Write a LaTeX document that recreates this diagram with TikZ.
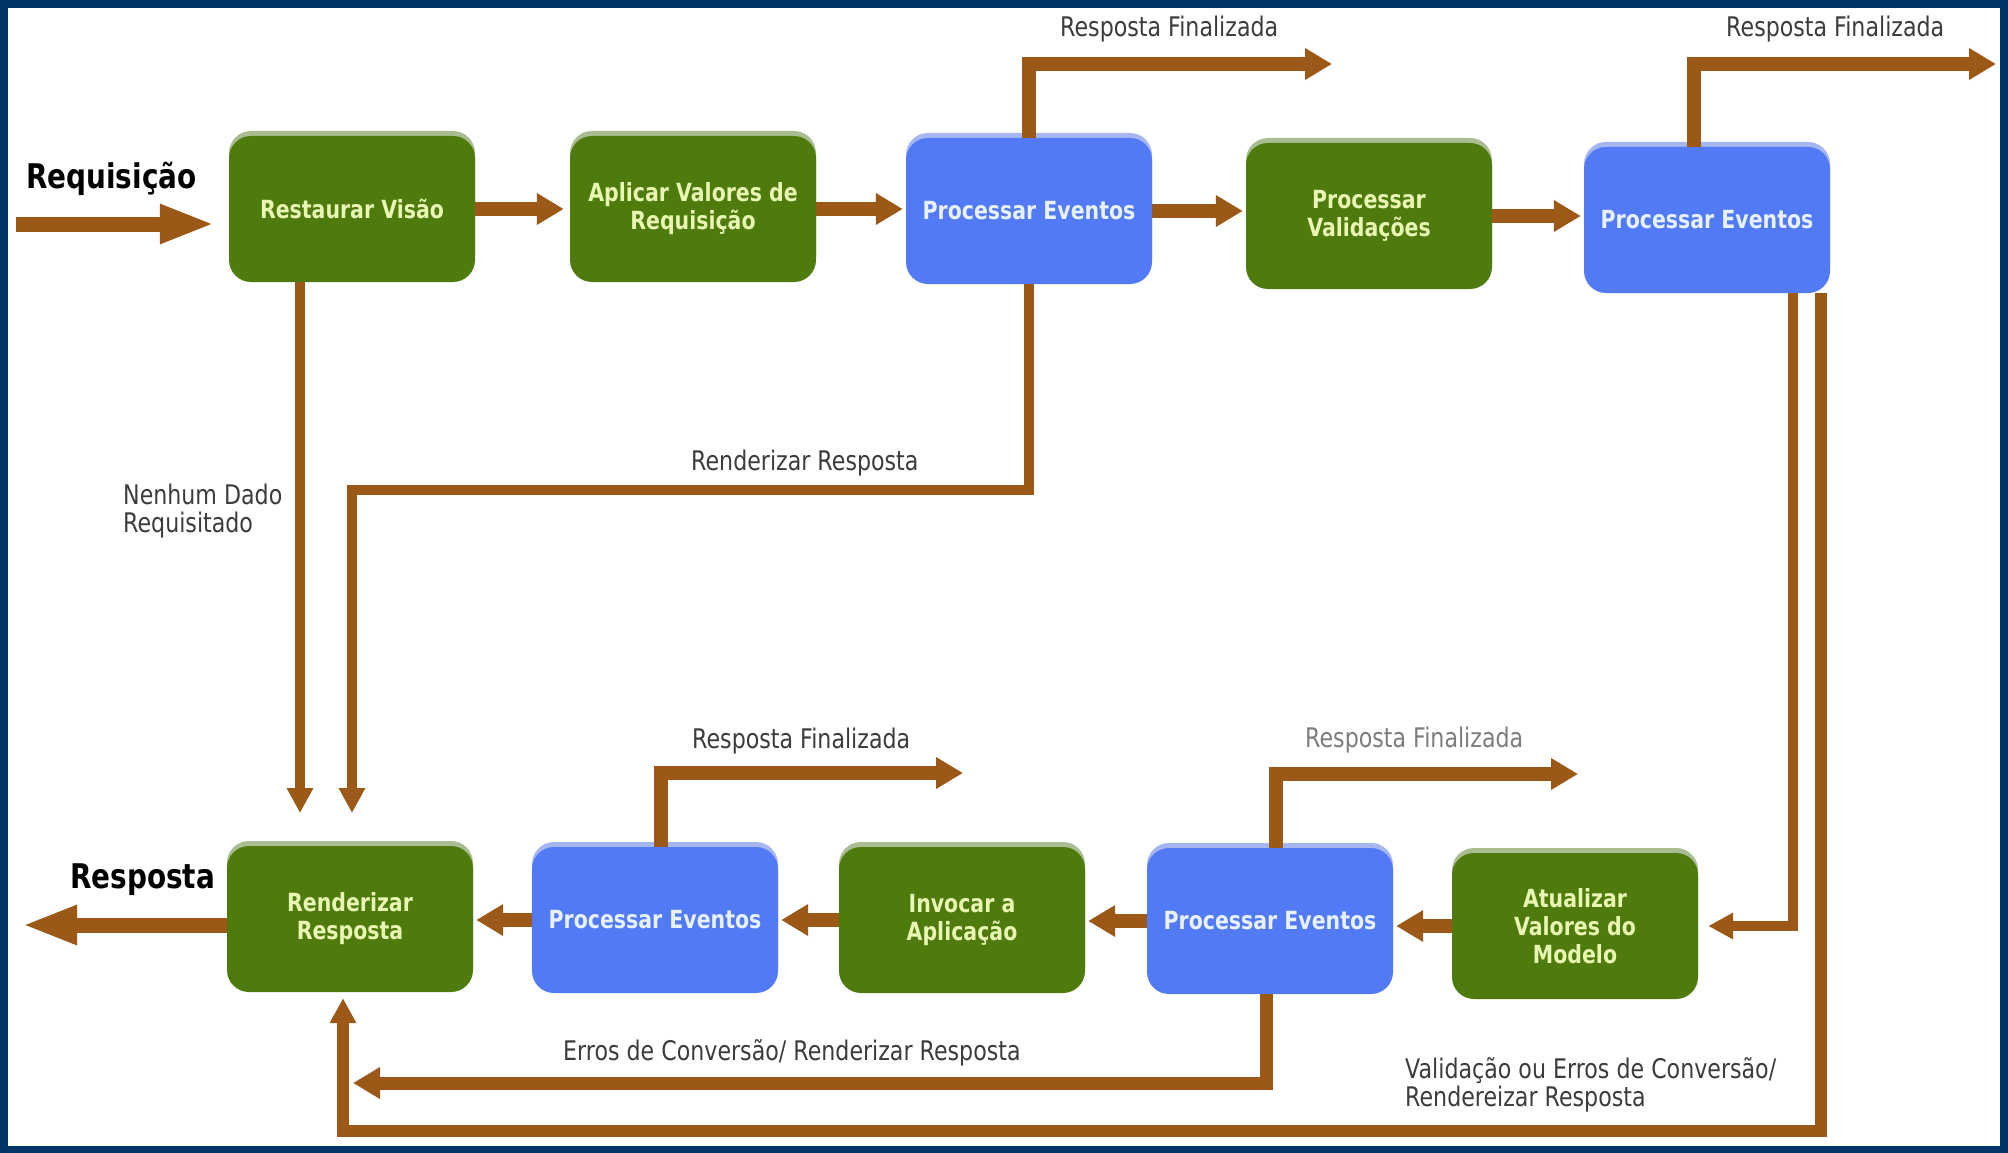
\documentclass[tikz,border=0pt]{standalone}
\usepackage{fontspec}
\setmainfont{DejaVu Sans}[FakeStretch=0.82]
\usetikzlibrary{arrows.meta,shadows,calc}
\definecolor{navy}{RGB}{0,51,102}
\definecolor{boxgreen}{RGB}{78,122,14}
\definecolor{boxgreenedge}{RGB}{170,188,145}
\definecolor{boxblue}{RGB}{82,122,245}
\definecolor{boxblueedge}{RGB}{165,182,240}
\definecolor{arrbrown}{RGB}{155,88,22}
\definecolor{greentext}{RGB}{232,248,178}
\definecolor{bluetext}{RGB}{232,242,255}
\definecolor{labelgray}{RGB}{60,60,60}
\definecolor{lightgray}{RGB}{125,125,125}
\tikzset{
  phase/.style={rounded corners=22pt, minimum width=246pt, minimum height=146pt,
    inner sep=0pt, align=center, font=\fontsize{25}{28}\selectfont\bfseries},
  gbox/.style={phase, fill=boxgreen, text=greentext,
    drop shadow={fill=boxgreenedge, shadow xshift=0pt, shadow yshift=5pt, opacity=1}},
  bbox/.style={phase, fill=boxblue, text=bluetext,
    drop shadow={fill=boxblueedge, shadow xshift=0pt, shadow yshift=5pt, opacity=1}},
  flow/.style={draw=arrbrown, line width=14pt, -{Triangle[length=27pt,width=30pt]}},
  thinflow/.style={draw=arrbrown, line width=10pt, -{Triangle[length=25pt,width=25pt]}},
  bigflow/.style={draw=arrbrown, line width=15pt, -{Triangle[length=55pt,width=36pt]}},
  lbl/.style={inner sep=0pt, text=labelgray, font=\fontsize{27}{28}\selectfont},
  biglbl/.style={inner sep=0pt, text=black, font=\fontsize{34}{36}\selectfont\bfseries},
}
\begin{document}
\begin{tikzpicture}[x=1pt,y=-1pt]
\fill[navy] (0,0) rectangle (2008,1153);
\fill[white] (8,8) rectangle (2000,1146);
\useasboundingbox (0,0) rectangle (2008,1153);

% boxes
\node[gbox] (rv)  at (352,209)  {Restaurar Visão};
\node[gbox] (avr) at (693,209)  {Aplicar Valores de\\Requisição};
\node[bbox] (pe1) at (1029,211) {Processar Eventos};
\node[gbox] (pv)  at (1369,216) {Processar\\Validações};
\node[bbox] (pe2) at (1707,220) {Processar Eventos};
\node[gbox] (rr)  at (350,919)  {Renderizar\\Resposta};
\node[bbox] (pe3) at (655,920)  {Processar Eventos};
\node[gbox] (ia)  at (962,920)  {Invocar a\\Aplicação};
\node[bbox] (pe4) at (1270,921) {Processar Eventos};
\node[gbox] (avm) at (1575,926) {Atualizar\\Valores do\\Modelo};

% coordinates for free ends and bends
\coordinate (reqstart) at (16,224);
\coordinate (out) at (22,925);
\coordinate (fin1) at (1332,64);
\coordinate (fin2) at (1996,64);
\coordinate (fin3) at (963,773);
\coordinate (fin4) at (1578,774);
\coordinate (nd) at (300,813);
\coordinate (rturn) at (1029,490);
\coordinate (rr1) at (352,813);
\coordinate (v1) at (1793,923);
\coordinate (v2) at (1821,1131);
\coordinate (e1) at (1266,1083);
\coordinate (e2) at (353,1083);

% top row flow
\draw[bigflow, shorten >=14pt] (reqstart) -- (reqstart -| rv.west);
\draw[flow, shorten >=6pt] (rv.east) -- (rv.east -| avr.west);
\draw[flow, shorten >=3pt] (avr.east) -- (avr.east -| pe1.west);
\draw[flow, shorten >=3pt] (pe1.east) -- (pe1.east -| pv.west);
\draw[flow, shorten >=3pt] (pv.east) -- (pv.east -| pe2.west);

% bottom row flow
\draw[flow, shorten >=3pt] (avm.west) -- (avm.west -| pe4.east);
\draw[flow, shorten >=3pt] (pe4.west) -- (pe4.west -| ia.east);
\draw[flow, shorten >=3pt] (ia.west) -- (ia.west -| pe3.east);
\draw[flow, shorten >=3pt] (pe3.west) -- (pe3.west -| rr.east);
\draw[bigflow] (rr.west |- out) -- (out);

% resposta finalizada
\draw[flow] (pe1.north) |- (fin1);
\draw[flow] ([xshift=-13pt]pe2.north) |- (fin2);
\draw[flow] ([xshift=6pt]pe3.north) |- (fin3);
\draw[flow] ([xshift=6pt]pe4.north) |- (fin4);

% other routes
\draw[thinflow] (rv.south -| nd) -- (nd);
\draw[thinflow] (pe1.south) -- (rturn) -| (rr1);
\draw[thinflow, shorten >=10pt] (pe2.south -| v1) |- (avm.east);
\draw[thinflow, line width=12pt, shorten >=6pt] (pe2.south -| v2) -- (v2) -| ([xshift=-7pt]rr.south);
\draw[flow, line width=13pt] (pe4.south -| e1) |- (e2);

% labels
\node[biglbl, anchor=base west] (lreq) at (26,188) {Requisição};
\node[biglbl, anchor=base west] (lresp) at (70,888) {Resposta};
\node[lbl, anchor=base west] (lf1) at (1060,37) {Resposta Finalizada};
\node[lbl, anchor=base west] (lf2) at (1726,37) {Resposta Finalizada};
\node[lbl, anchor=base west] (lf3) at (692,748) {Resposta Finalizada};
\node[lbl, anchor=base west, text=lightgray] (lf4) at (1305,747) {Resposta Finalizada};
\node[lbl, anchor=base west] (lrr) at (691,470) {Renderizar Resposta};
\node[lbl, anchor=north west, align=left] (lnd) at (123,484) {Nenhum Dado\\Requisitado};
\node[lbl, anchor=base west] (lerr) at (563,1060) {Erros de Conversão/ Renderizar Resposta};
\node[lbl, anchor=north west, align=left] (lval) at (1405,1057) {Validação ou Erros de Conversão/\\Rendereizar Resposta};
\end{tikzpicture}
\end{document}
